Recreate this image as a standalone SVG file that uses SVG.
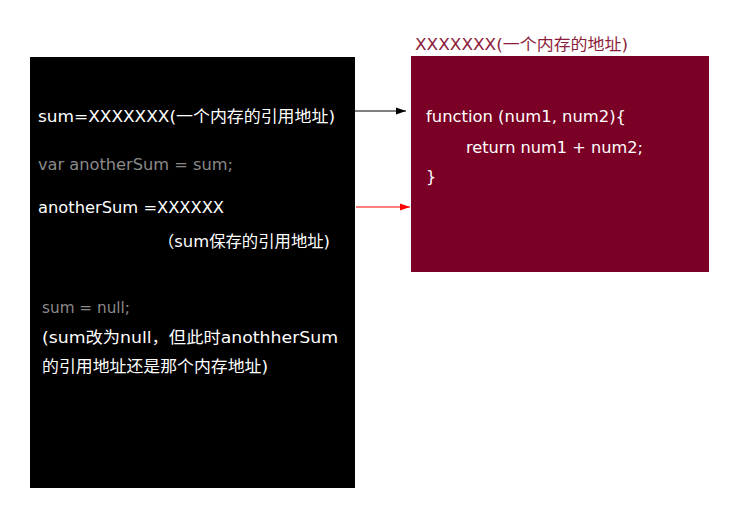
<svg xmlns="http://www.w3.org/2000/svg" width="746" height="532" viewBox="0 0 746 532">
<defs>
<style>
text{font-family:"DejaVu Sans","Noto Sans CJK SC",sans-serif;font-size:16px}
.w{fill:#ffffff}
.g{fill:#8a8a8a}
.t{fill:#8c1d3c}
</style>
<marker id="ab" viewBox="0 0 10 10" refX="10" refY="5" markerWidth="10" markerHeight="10" markerUnits="userSpaceOnUse" orient="auto"><path d="M0,1.5 L10,5 L0,8.5 Z" fill="#000"/></marker>
<marker id="ar" viewBox="0 0 10 10" refX="10" refY="5" markerWidth="10" markerHeight="10" markerUnits="userSpaceOnUse" orient="auto"><path d="M0,1.5 L10,5 L0,8.5 Z" fill="#ff0000"/></marker>
</defs>
<rect width="746" height="532" fill="#ffffff"/>
<g id="stack">
<rect x="30" y="57" width="325" height="431" fill="#000000"/>
<text class="w" x="38" y="122" textLength="297" lengthAdjust="spacingAndGlyphs">sum=XXXXXXX(一个内存的引用地址)</text>
<text class="g" x="38" y="170" textLength="195" lengthAdjust="spacingAndGlyphs">var anotherSum = sum;</text>
<text class="w" x="38" y="213" textLength="186" lengthAdjust="spacingAndGlyphs">anotherSum =XXXXXX</text>
<text class="w" x="158" y="247" textLength="172" lengthAdjust="spacingAndGlyphs">（sum保存的引用地址)</text>
<text class="g" x="42" y="313" textLength="88" lengthAdjust="spacingAndGlyphs">sum = null;</text>
<text class="w" x="42" y="343" textLength="296" lengthAdjust="spacingAndGlyphs">(sum改为null，但此时anothherSum</text>
<text class="w" x="42" y="372" textLength="226" lengthAdjust="spacingAndGlyphs">的引用地址还是那个内存地址)</text>
</g>
<g id="heap">
<text class="t" x="415" y="50" textLength="213" lengthAdjust="spacingAndGlyphs">XXXXXXX(一个内存的地址)</text>
<rect x="411" y="56" width="298" height="216" fill="#7b0025"/>
<text class="w" x="426" y="122" textLength="200" lengthAdjust="spacingAndGlyphs">function (num1, num2){</text>
<text class="w" x="466" y="153" textLength="177" lengthAdjust="spacingAndGlyphs">return num1 + num2;</text>
<text class="w" x="426" y="182">}</text>
</g>
<g id="connectors">
<line x1="355" y1="111" x2="406" y2="111" stroke="#000000" stroke-width="1" marker-end="url(#ab)"/>
<line x1="356" y1="207" x2="410" y2="207" stroke="#ff0000" stroke-width="1" marker-end="url(#ar)"/>
</g>
</svg>
